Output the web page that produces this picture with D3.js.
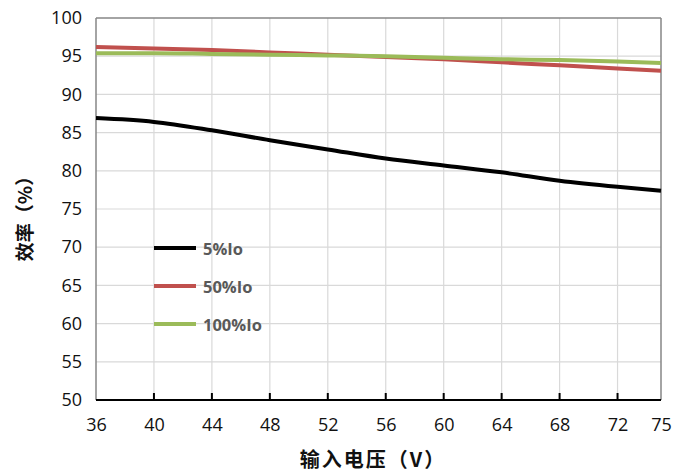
<!DOCTYPE html>
<html><head><meta charset="utf-8">
<script src="https://cdn.jsdelivr.net/npm/d3@7"></script>
<style>body{margin:0;background:#fff}svg{display:block}</style>
</head><body>
<svg id="c" width="685" height="476"></svg>
<script>
const voltages = [36, 40, 44, 48, 52, 56, 60, 64, 68, 72, 75];
const eff5 = [86.9, 86.4, 85.3, 84.0, 82.8, 81.6, 80.7, 79.8, 78.7, 77.9, 77.4];
const eff50 = [96.2, 96.0, 95.8, 95.5, 95.2, 94.9, 94.6, 94.2, 93.8, 93.4, 93.1];
const eff100 = [95.4, 95.4, 95.3, 95.2, 95.1, 95.0, 94.8, 94.6, 94.5, 94.3, 94.1];
const seriesNames = ["5%Io", "50%Io", "100%Io"];
const xTicks = [36, 40, 44, 48, 52, 56, 60, 64, 68, 72, 75];
const yTicks = [50, 55, 60, 65, 70, 75, 80, 85, 90, 95, 100];
const xTitle = "输入电压（V）";
const yTitle = "效率（%）";

const colors = ["#000000", "#c0504d", "#9bbb59"];
const series = [eff5, eff50, eff100];

const svg = d3.select("#c");
const L = 96, R = 661, T = 18, B = 400;
const x = d3.scaleLinear().domain([36, 75]).range([L, R]);
const y = d3.scaleLinear().domain([50, 100]).range([B, T]);
const tickFont = "'Open Sans','Noto Sans',sans-serif";

// gridlines
svg.append("g").selectAll("line").data(yTicks.filter(d => d > 50 && d < 100)).join("line")
  .attr("x1", L).attr("x2", R).attr("y1", d => y(d)).attr("y2", d => y(d))
  .attr("stroke", "#d9d9d9").attr("stroke-width", 1.2);
svg.append("g").selectAll("line").data(xTicks.filter(d => d > 36 && d < 75)).join("line")
  .attr("y1", T).attr("y2", B).attr("x1", d => x(d)).attr("x2", d => x(d))
  .attr("stroke", "#d9d9d9").attr("stroke-width", 1.2);

// frame
svg.append("line").attr("x1", L).attr("x2", R).attr("y1", T).attr("y2", T).attr("stroke", "#868686").attr("stroke-width", 1.5);
svg.append("line").attr("x1", R).attr("x2", R).attr("y1", T).attr("y2", B).attr("stroke", "#868686").attr("stroke-width", 1.5);
svg.append("line").attr("x1", L).attr("x2", L).attr("y1", T).attr("y2", B).attr("stroke", "#868686").attr("stroke-width", 1.5);

// bottom axis
const xAxis = d3.axisBottom(x).tickValues(xTicks).tickSize(0).tickPadding(18).tickFormat(d3.format("d"));
const gx = svg.append("g").attr("transform", `translate(0,${B})`).call(xAxis);
gx.select(".domain").remove();
gx.selectAll("text").attr("font-family", tickFont).attr("font-size", 18).attr("fill", "#111");
svg.append("g").selectAll("line").data(xTicks.filter(d => d > 36 && d < 75)).join("line")
  .attr("x1", d => x(d)).attr("x2", d => x(d)).attr("y1", B).attr("y2", B - 7)
  .attr("stroke", "#000").attr("stroke-width", 2);
svg.append("line").attr("x1", L).attr("x2", R).attr("y1", B).attr("y2", B).attr("stroke", "#000").attr("stroke-width", 2);

// left axis labels
const yAxis = d3.axisLeft(y).tickValues(yTicks).tickSize(0).tickPadding(14);
const gy = svg.append("g").attr("transform", `translate(${L},0)`).call(yAxis);
gy.select(".domain").remove();
gy.selectAll("text").attr("font-family", tickFont).attr("font-size", 18).attr("fill", "#111");

// lines
const line = d3.line().x((d, i) => x(voltages[i])).y(d => y(d)).curve(d3.curveMonotoneX);
series.forEach((s, i) => {
  svg.append("path").datum(s).attr("d", line).attr("fill", "none")
    .attr("stroke", colors[i]).attr("stroke-width", 4).attr("stroke-linecap", "butt");
});

// legend
const legY = [248, 286, 324];
seriesNames.forEach((n, i) => {
  svg.append("line").attr("x1", 154).attr("x2", 196).attr("y1", legY[i]).attr("y2", legY[i])
    .attr("stroke", colors[i]).attr("stroke-width", 4);
  svg.append("text").attr("x", 203).attr("y", legY[i] + 1).attr("dy", "0.36em")
    .attr("font-family", tickFont).attr("font-weight", "bold").attr("font-size", 16.5)
    .attr("fill", "#595959").text(n);
});

// titles
svg.append("text").attr("x", 373).attr("y", 467).attr("text-anchor", "middle")
  .attr("font-family", "'Noto Sans CJK SC',sans-serif").attr("font-weight", "bold").attr("font-size", 20)
  .attr("letter-spacing", 2).attr("fill", "#111").text(xTitle);
svg.append("text").attr("transform", "translate(32,214) rotate(-90)").attr("text-anchor", "middle")
  .attr("font-family", "'Noto Sans CJK SC',sans-serif").attr("font-weight", "bold").attr("font-size", 19)
  .attr("fill", "#111").text(yTitle);
</script>
</body></html>
